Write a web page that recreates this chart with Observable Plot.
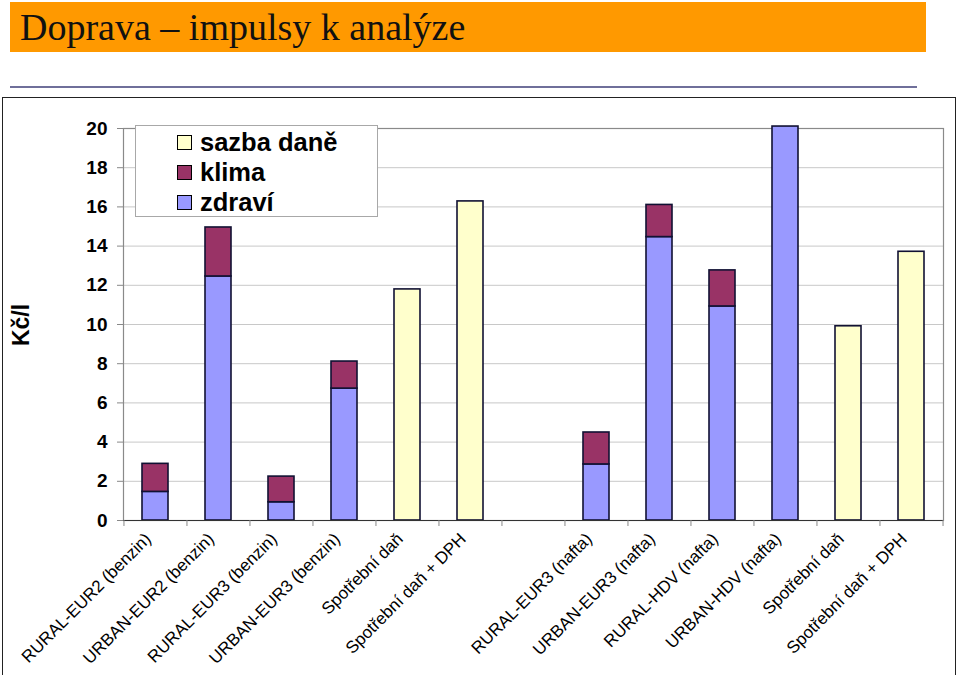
<!DOCTYPE html>
<html>
<head>
<meta charset="utf-8">
<script src="https://cdn.jsdelivr.net/npm/d3@7"></script>
<script src="https://cdn.jsdelivr.net/npm/@observablehq/plot@0.6"></script>
<style>
  html, body { margin: 0; padding: 0; background: #fff; }
  body { width: 960px; height: 675px; position: relative; overflow: hidden; font-family: "Liberation Sans", Arial, sans-serif; }
  #titlebar { position: absolute; left: 10px; top: 2px; width: 916px; height: 50px; background: #FF9900; }
  #title { position: absolute; left: 20px; top: 5px; font-family: "Liberation Serif", "DejaVu Serif", serif; font-size: 38px; color: #111; white-space: nowrap; }
  #rule { position: absolute; left: 10px; top: 86px; width: 907px; height: 2px; background: #6f6f9a; }
  #frame { position: absolute; left: 2px; top: 97px; width: 954px; height: 600px; border: 1px solid #222; box-sizing: border-box; }
  #chart { position: absolute; left: 0; top: 97px; }
  #ylabel { position: absolute; left: 21px; top: 325px; transform: translate(-50%, -50%) rotate(-90deg); font-weight: bold; font-size: 23px; color: #000; white-space: nowrap; }
  #legend { position: absolute; left: 135px; top: 125px; width: 243px; height: 92px; background: #fff; border: 1px solid #a8a8a8; box-sizing: border-box; }
  .item { position: absolute; left: 41px; height: 28px; display: flex; align-items: center; font-weight: bold; font-size: 25.5px; color: #000; white-space: nowrap; }
  .sw { width: 15px; height: 15px; border: 1px solid #000; box-sizing: border-box; margin-right: 8px; }
</style>
</head>
<body>
<div id="titlebar"></div>
<div id="title">Doprava – impulsy k analýze</div>
<div id="rule"></div>
<div id="frame"></div>
<div id="chart"></div>
<div id="ylabel">Kč/l</div>
<div id="legend"></div>
<script>
// ---- data ----
const categories = [
  "RURAL-EUR2 (benzin)", "URBAN-EUR2 (benzin)", "RURAL-EUR3 (benzin)", "URBAN-EUR3 (benzin)",
  "Spotřební daň", "Spotřební daň + DPH", "",
  "RURAL-EUR3 (nafta)", "URBAN-EUR3 (nafta)", "RURAL-HDV (nafta)", "URBAN-HDV (nafta)",
  "Spotřební daň", "Spotřební daň + DPH"
];
const zdravi     = [1.46, 12.45, 0.93, 6.73, 0, 0, 0, 2.86, 14.46, 10.92, 20.1, 0, 0];
const klima      = [1.43, 2.50, 1.31, 1.38, 0, 0, 0, 1.63, 1.64, 1.84, 0, 0, 0];
const sazbaDane  = [0, 0, 0, 0, 11.79, 16.28, 0, 0, 0, 0, 0, 9.91, 13.71];
const seriesNames = ["sazba daně", "klima", "zdraví"];
const seriesColors = ["#FFFFCC", "#993366", "#9999FF"];
const yTicks = [0, 2, 4, 6, 8, 10, 12, 14, 16, 18, 20];

// ---- table (stack order: zdraví bottom, klima, sazba daně) ----
const idx = categories.map((_, i) => i);
const rows = [];
[["zdraví", zdravi], ["klima", klima], ["sazba daně", sazbaDane]].forEach(([s, arr]) => {
  arr.forEach((v, i) => { if (v > 0) rows.push({cat: i, series: s, value: v}); });
});

const W = 960, H = 578, ML = 123, MR = 17, MT = 31, MB = 155;
const step = (W - ML - MR) / categories.length;

const chart = Plot.plot({
  width: W, height: H,
  marginLeft: ML, marginRight: MR, marginTop: MT, marginBottom: MB,
  style: {fontFamily: "'Liberation Sans', Arial, sans-serif", background: "transparent", color: "#000"},
  x: {domain: idx, paddingInner: 0.59, paddingOuter: 0.295, label: null, axis: null},
  y: {domain: [0, 20], label: null, axis: null},
  color: {domain: seriesNames, range: seriesColors},
  marks: [
    Plot.gridY(yTicks, {stroke: "#c8c8c8", strokeOpacity: 1, strokeWidth: 1}),
    Plot.frame({stroke: "#8a8a8a", strokeWidth: 1.2}),
    Plot.barY(rows, {x: "cat", y: "value", fill: "series", stroke: "#111133", strokeWidth: 1.6}),
    Plot.ruleY([0], {stroke: "#333", strokeWidth: 1.2}),
    // category boundary ticks below the x axis
    Plot.ruleX(idx, {x: d => d, y1: 0, y2: 0, insetBottom: -6, dx: -step / 2, stroke: "#888"}),
    Plot.ruleX([idx[idx.length - 1]], {x: d => d, y1: 0, y2: 0, insetBottom: -6, dx: step / 2, stroke: "#888"}),
    // y ticks and labels
    Plot.ruleY(yTicks, {y: d => d, frameAnchor: "left", insetLeft: -6, insetRight: W - ML - MR, stroke: "#888"}),
    Plot.text(yTicks, {y: d => d, frameAnchor: "left", dx: -16, textAnchor: "end",
                       fontSize: 19, fontWeight: "bold", fill: "#000", text: d => String(d)}),
    // x labels, rotated
    Plot.text(idx, {x: d => d, y: 0, text: i => categories[i], rotate: -45, textAnchor: "end",
                    lineAnchor: "top", dx: -12, dy: 11, fontSize: 17, fill: "#000"})
  ]
});
document.getElementById("chart").appendChild(chart);

// ---- legend ----
const legend = document.getElementById("legend");
const tops = [2, 32, 62];
seriesNames.forEach((s, i) => {
  const it = document.createElement("div");
  it.className = "item";
  it.style.top = tops[i] + "px";
  const sw = document.createElement("div");
  sw.className = "sw";
  sw.style.background = seriesColors[i];
  it.appendChild(sw);
  it.appendChild(document.createTextNode(s));
  legend.appendChild(it);
});
</script>
</body>
</html>
